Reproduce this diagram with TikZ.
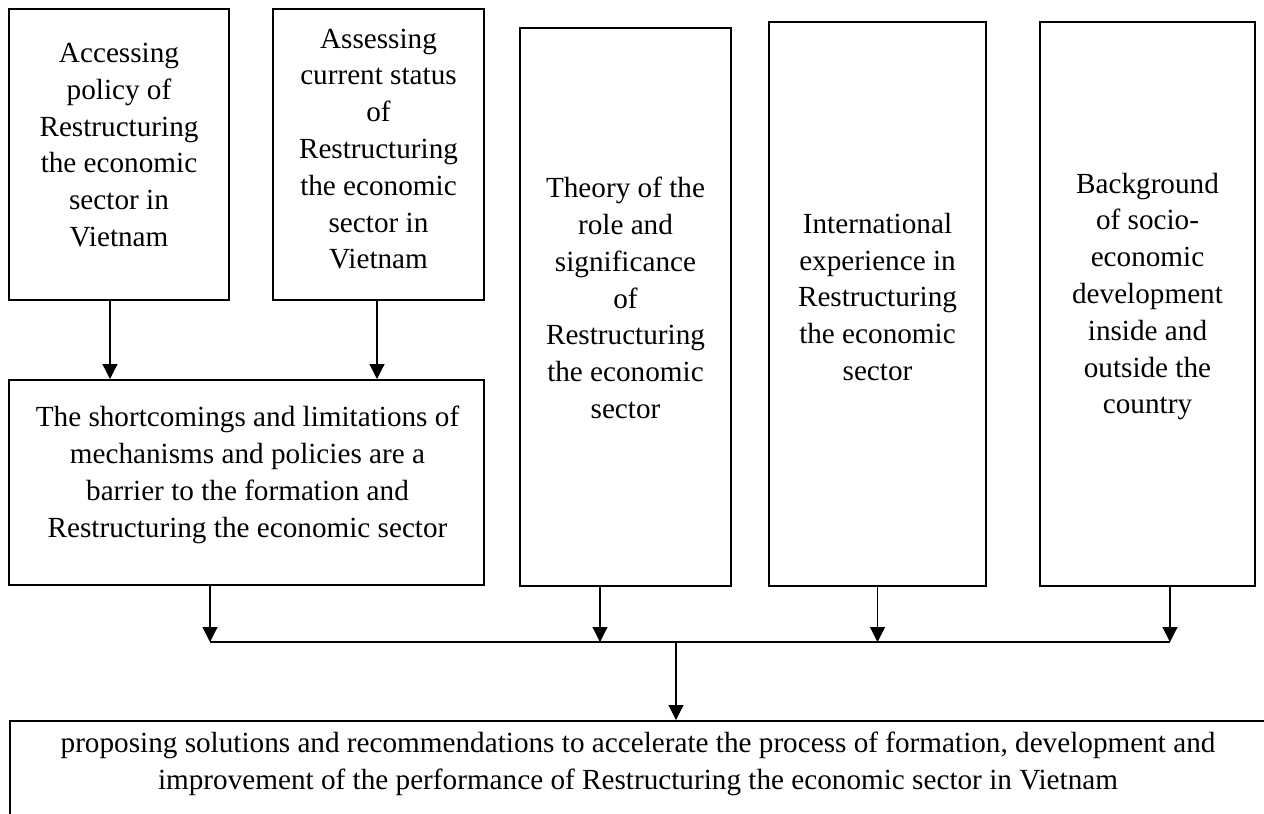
\documentclass[tikz,border=0pt]{standalone}
\usepackage{fontspec}
\setmainfont{Liberation Serif}
\usetikzlibrary{arrows.meta}

\begin{document}
\begin{tikzpicture}[x=1pt, y=-1pt, >={Triangle[width=15pt, length=15pt]}, box/.style={draw, line width=2pt, inner sep=0pt}, txt/.style={align=center, inner sep=0pt, font=\fontsize{29.2}{36.8}\selectfont}, link/.style={->, line width=1.2pt}]
		\useasboundingbox (0, 0) rectangle (1264, 814);
		\clip (0, 0) rectangle (1264, 814);

		\node[box, minimum width=220pt, minimum height=291pt] (acc) at (119, 154.5) {};
		\node[txt] (accT) at (119, 145) {Accessing\\policy of\\Restructuring\\the economic\\sector in\\Vietnam};

		\node[box, minimum width=211pt, minimum height=291pt] (ass) at (378.5, 154.5) {};
		\node[txt] (assT) at (378.5, 149) {Assessing\\current status\\of\\Restructuring\\the economic\\sector in\\Vietnam};

		\node[box, minimum width=475pt, minimum height=205pt] (short) at (246.5, 482.5) {};
		\node[txt] (shortT) at (247.5, 475) {The shortcomings and limitations of\\mechanisms and policies are a\\barrier to the formation and\\Restructuring the economic sector};

		\node[box, minimum width=211pt, minimum height=558pt] (theo) at (625.5, 307) {};
		\node[txt] (theoT) at (625.5, 298) {Theory of the\\role and\\significance\\of\\Restructuring\\the economic\\sector};

		\node[box, minimum width=217pt, minimum height=564pt] (intl) at (877.5, 304) {};
		\node[txt] (intlT) at (877.5, 297) {International\\experience in\\Restructuring\\the economic\\sector};

		\node[box, minimum width=215pt, minimum height=564pt] (back) at (1147.5, 304) {};
		\node[txt] (backT) at (1147.5, 296.5) {Background\\of socio-\\economic\\development\\inside and\\outside the\\country};

		\node[box, minimum width=1258pt, minimum height=140pt, anchor=north west] (prop) at (9, 720) {};
		\node[txt] (propT) at (638, 764) {proposing solutions and recommendations to accelerate the process of formation, development and\\improvement of the performance of Restructuring the economic sector in Vietnam};

		\coordinate (busL) at (210, 642);
		\coordinate (b2) at (600, 642);
		\coordinate (b3) at (877.5, 642);
		\coordinate (busR) at (1170, 642);
		\coordinate (drop) at (676, 642);

		\draw[link] ([xshift=-9pt]acc.south) -- ([xshift=-9pt]acc.south |- short.north);
		\draw[link] ([xshift=-1.5pt]ass.south) -- ([xshift=-1.5pt]ass.south |- short.north);
		\draw[link] (short.south -| busL) -- (busL);
		\draw[link] (theo.south -| b2) -- (b2);
		\draw[link] (intl.south -| b3) -- (b3);
		\draw[link] (back.south -| busR) -- (busR);
		\draw[line width=1.2pt] (busL) -- (busR);
		\draw[link] (drop) -- (drop |- prop.north);
	\end{tikzpicture}
\end{document}
